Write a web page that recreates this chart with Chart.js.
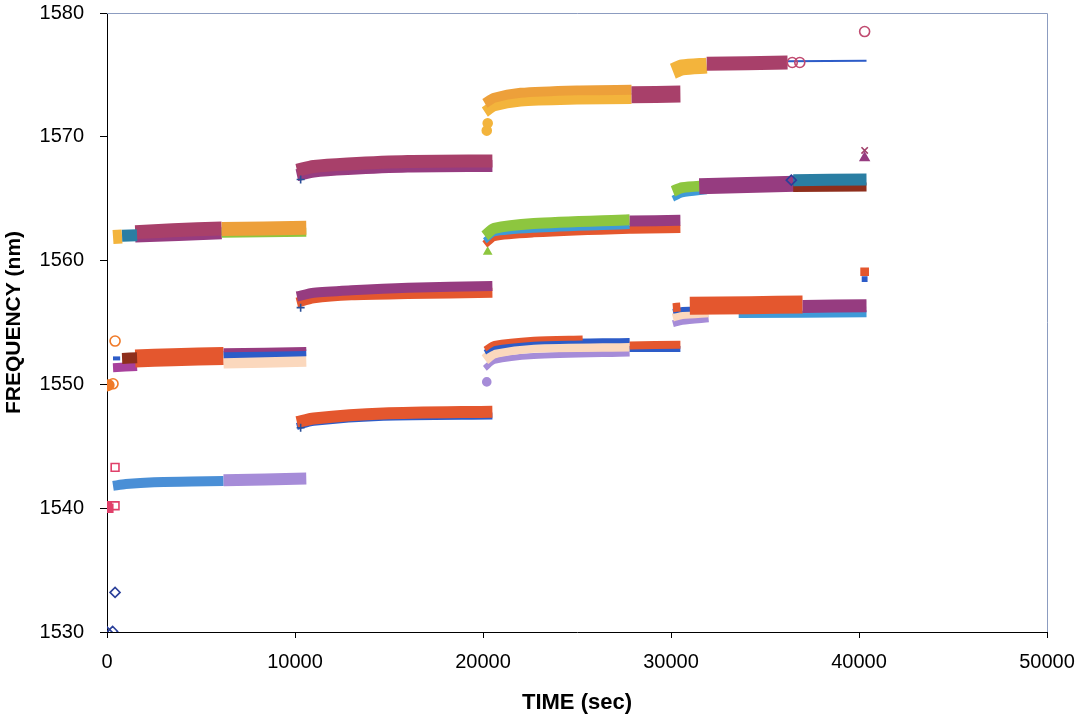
<!DOCTYPE html>
<html>
<head>
<meta charset="utf-8">
<script src="https://cdn.jsdelivr.net/npm/chart.js@4.4.1/dist/chart.umd.min.js"></script>
<style>
  html, body { margin: 0; padding: 0; background: #fff; }
  canvas { display: block; }
</style>
</head>
<body>
<canvas id="freqChart" width="1078" height="719"></canvas>
<script>
// Axis ticks
const xTicks = [0, 10000, 20000, 30000, 40000, 50000];
const yTicks = [1530, 1540, 1550, 1560, 1570, 1580];

// Band data, [time (sec), frequency (nm)]
// step 1 (0 - 10000 s)
const s1TopOrange = [[320, 1561.9], [800, 1561.95]];
const s1TopTeal = [[800, 1562.0], [1600, 1562.05]];
const s1TopPurple = [[1500, 1561.95], [6100, 1562.2]];
const s1TopMaroon = [[1500, 1562.3], [3500, 1562.45], [6100, 1562.6]];
const s1TopGreen = [[6100, 1562.2], [10600, 1562.3]];
const s1TopYellow = [[6100, 1562.55], [10600, 1562.65]];

const s1MidBlue = [[320, 1552.1], [700, 1552.1]];
const s1MidMagenta = [[320, 1551.35], [1600, 1551.45]];
const s1MidBrown = [[800, 1552.1], [1600, 1552.15]];
const s1MidRed = [[1500, 1552.1], [3500, 1552.2], [6200, 1552.3]];
const s1MidPeach = [[6200, 1551.8], [10600, 1551.95]];
const s1MidBlue2 = [[6200, 1552.4], [10600, 1552.55]];
const s1MidMaroon = [[6200, 1552.75], [10600, 1552.85]];

const s1LowSteel = [[320, 1541.8], [1000, 1541.95], [2500, 1542.1], [4500, 1542.15], [6200, 1542.2]];
const s1LowLavender = [[6200, 1542.25], [10600, 1542.4]];

// step 2 (10000 - 20000 s)
const s2TopPurple = [[10100, 1566.9], [11000, 1567.2], [12800, 1567.4], [16000, 1567.6], [20500, 1567.65]];
const s2TopMaroon = [[10100, 1567.3], [11000, 1567.6], [12800, 1567.8], [16000, 1568.0], [20500, 1568.05]];
const s2MidRed = [[10100, 1556.6], [11000, 1556.95], [13000, 1557.2], [16000, 1557.3], [20500, 1557.4]];
const s2MidMaroon = [[10100, 1557.1], [11000, 1557.4], [13000, 1557.6], [16000, 1557.8], [20500, 1557.95]];
const s2LowBlue = [[10100, 1546.6], [11000, 1546.95], [14700, 1547.35], [20500, 1547.45]];
const s2LowRed = [[10100, 1546.95], [11000, 1547.25], [14700, 1547.65], [20500, 1547.8]];

// step 3 (20000 - 30000 s)
const s3TopYellow = [[20100, 1572.0], [20600, 1572.5], [22000, 1572.9], [25000, 1573.05], [27900, 1573.1]];
const s3TopOrange = [[20100, 1572.7], [20600, 1573.15], [22000, 1573.55], [25000, 1573.75], [27900, 1573.8]];
const s3TopMaroon = [[27900, 1573.4], [30500, 1573.45]];
const s3MidRed = [[20100, 1561.3], [20600, 1561.9], [22700, 1562.2], [27800, 1562.5], [30500, 1562.55]];
const s3MidBlue = [[20100, 1561.6], [20600, 1562.2], [22700, 1562.5], [27800, 1562.8]];
const s3MidGreen = [[20100, 1562.0], [20600, 1562.6], [22700, 1563.0], [27800, 1563.3]];
const s3MidMaroon = [[27800, 1563.2], [30500, 1563.25]];
const s3LowLavender = [[20100, 1551.3], [20600, 1551.9], [22700, 1552.3], [27800, 1552.5]];
const s3LowPeach = [[20100, 1552.0], [20600, 1552.55], [22700, 1553.0], [27800, 1553.1]];
const s3LowBlue = [[20100, 1552.6], [20600, 1553.0], [22700, 1553.4], [27800, 1553.55]];
const s3LowRed = [[20100, 1552.85], [20600, 1553.3], [22700, 1553.65], [25300, 1553.75]];
const s3LowBlue2 = [[27800, 1552.85], [30500, 1552.85]];
const s3LowRed2 = [[27800, 1553.15], [30500, 1553.2]];

// step 4 (30000 - 40000 s)
const s4TopYellow = [[30100, 1575.3], [30600, 1575.6], [31900, 1575.75]];
const s4TopMaroon = [[31900, 1575.9], [36200, 1576.0]];
const s4TopBlueLine = [[36200, 1576.1], [40400, 1576.15]];
const s4MidBlue = [[30100, 1565.0], [30600, 1565.35], [31900, 1565.6]];
const s4MidGreen = [[30100, 1565.6], [30600, 1565.9], [31900, 1566.05]];
const s4MidMaroon = [[31500, 1566.0], [36600, 1566.2]];
const s4MidBrown = [[36500, 1565.9], [40400, 1565.95]];
const s4MidTeal = [[36500, 1566.5], [40400, 1566.55]];
const s4LowLavender = [[30100, 1554.9], [30600, 1555.1], [32000, 1555.3]];
const s4LowPeach = [[30100, 1555.4], [30600, 1555.6], [32000, 1555.75]];
const s4LowBlue = [[30100, 1555.9], [30600, 1556.05], [32000, 1556.1]];
const s4LowBlue2 = [[33600, 1555.65], [40400, 1555.7]];
const s4LowRedStart = [[30100, 1556.2], [30500, 1556.25]];
const s4LowRed = [[31000, 1556.35], [34200, 1556.4], [37000, 1556.45]];
const s4LowMaroon = [[37000, 1556.3], [40400, 1556.35]];

// single markers
const orangeOpenCircles = [[430, 1553.5], [320, 1550.05]];
const orangeDots = [[0, 1549.9], [100, 1549.95]];
const pinkOpenSquares = [[430, 1543.3], [430, 1540.2]];
const pinkSquares = [[0, 1540.2], [100, 1540.0]];
const navyDiamonds = [[430, 1533.2], [300, 1530.05], [0, 1530.0]];
const navyCrosses = [[10300, 1566.55], [10300, 1556.2], [10300, 1546.5]];
const yellowDrips = [[20200, 1570.5], [20250, 1571.1]];
const greenDrips = [[20250, 1560.7]];
const lavenderDrips = [[20200, 1550.2]];
const maroonOpenCircles = [[36450, 1576.0], [36850, 1576.0], [40300, 1578.5]];
const maroonCrosses = [[40300, 1568.9]];
const maroonTriangles = [[40300, 1568.3]];
const navyOpenDiamonds = [[36400, 1566.5]];
const orangeSquares = [[40300, 1559.1]];
const blueSquares = [[40300, 1558.5]];

const pts = arr => arr.map(p => ({ x: p[0], y: p[1] }));

const datasets = [];

function band(data, color, width) {
    datasets.push({
        data: pts(data),
        showLine: true,
        borderColor: color,
        borderWidth: width,
        borderCapStyle: 'butt',
        borderJoinStyle: 'round',
        pointRadius: 0,
        tension: 0.25
    });
}

function marks(data, style, color, radius, filled) {
    datasets.push({
        data: pts(data),
        showLine: false,
        pointStyle: style,
        pointRadius: radius,
        pointBorderColor: color,
        pointBackgroundColor: filled ? color : 'rgba(0,0,0,0)',
        pointBorderWidth: 1.6
    });
}

// colours
const MAROON = '#a8406a';
const PURPLE = '#963c80';
const RED = '#e4572e';
const YELLOW = '#f3b43c';
const ORANGE = '#eda03a';
const GREEN = '#8dc63f';
const TEAL = '#2a7ea3';
const STEEL = '#4a8fd6';
const LBLUE = '#3f9ad8';
const BLUE = '#2d5cc8';
const LAVENDER = '#a68cd8';
const PEACH = '#fbd8bd';
const BROWN = '#8e2e1c';

// step 1
band(s1TopPurple, PURPLE, 12);
band(s1TopMaroon, MAROON, 14);
band(s1TopGreen, GREEN, 9);
band(s1TopYellow, ORANGE, 14);
band(s1TopOrange, YELLOW, 14);
band(s1TopTeal, TEAL, 12);

band(s1MidMagenta, '#a8409c', 9);
band(s1MidRed, RED, 18);
band(s1MidBrown, BROWN, 11);
band(s1MidBlue, BLUE, 4);
band(s1MidPeach, PEACH, 13);
band(s1MidBlue2, BLUE, 7);
band(s1MidMaroon, PURPLE, 4);

band(s1LowSteel, STEEL, 10);
band(s1LowLavender, LAVENDER, 12);

// step 2
band(s2TopPurple, PURPLE, 12);
band(s2TopMaroon, MAROON, 13);
band(s2MidRed, RED, 10);
band(s2MidMaroon, PURPLE, 10);
band(s2LowBlue, BLUE, 7);
band(s2LowRed, RED, 12);

// step 3
band(s3TopYellow, YELLOW, 11);
band(s3TopOrange, ORANGE, 10);
band(s3TopMaroon, MAROON, 17);
band(s3MidRed, RED, 8);
band(s3MidBlue, LBLUE, 6);
band(s3MidGreen, GREEN, 11);
band(s3MidMaroon, PURPLE, 11);
band(s3LowLavender, LAVENDER, 6);
band(s3LowPeach, PEACH, 11);
band(s3LowBlue, BLUE, 5);
band(s3LowRed, RED, 5);
band(s3LowBlue2, BLUE, 6);
band(s3LowRed2, RED, 8);

// step 4
band(s4TopYellow, YELLOW, 16);
band(s4TopMaroon, MAROON, 14);
band(s4TopBlueLine, BLUE, 2);
band(s4MidBlue, LBLUE, 6);
band(s4MidGreen, GREEN, 11);
band(s4MidMaroon, PURPLE, 16);
band(s4MidBrown, BROWN, 9);
band(s4MidTeal, TEAL, 12);
band(s4LowLavender, LAVENDER, 7);
band(s4LowPeach, PEACH, 8);
band(s4LowBlue, BLUE, 5);
band(s4LowBlue2, LBLUE, 7);
band(s4LowRedStart, RED, 9);
band(s4LowRed, RED, 18);
band(s4LowMaroon, PURPLE, 13);

// markers
marks(orangeOpenCircles, 'circle', '#f07a28', 5, false);
marks(orangeDots, 'circle', '#f07a28', 5, true);
marks(pinkOpenSquares, 'rect', '#e0406a', 5.5, false);
marks(pinkSquares, 'rect', '#e0406a', 5.5, true);
marks(navyDiamonds, 'rectRot', '#2a3f9a', 5, false);
marks(navyCrosses, 'cross', '#2a4f98', 4, false);
marks(yellowDrips, 'circle', YELLOW, 4.5, true);
marks(greenDrips, 'triangle', GREEN, 4, true);
marks(lavenderDrips, 'circle', LAVENDER, 4, true);
marks(maroonOpenCircles, 'circle', '#c04a70', 5, false);
marks(maroonCrosses, 'crossRot', '#a0406a', 4.5, false);
marks(maroonTriangles, 'triangle', PURPLE, 5, true);
marks(navyOpenDiamonds, 'rectRot', '#2a3f9a', 5, false);
marks(orangeSquares, 'rect', RED, 5, true);
marks(blueSquares, 'rect', BLUE, 3, true);

// later entries drawn on top
datasets.forEach((d, i) => { d.order = datasets.length - i; });

const plotFrame = {
    id: 'plotFrame',
    afterDraw(chart) {
        const { ctx, chartArea: a } = chart;
        ctx.save();
        ctx.strokeStyle = '#8c9cc0';
        ctx.lineWidth = 1;
        ctx.beginPath();
        ctx.moveTo(a.left, a.top + 0.5);
        ctx.lineTo(a.right + 0.5, a.top + 0.5);
        ctx.lineTo(a.right + 0.5, a.bottom);
        ctx.stroke();
        ctx.restore();
    }
};

const fontFamily = "'Liberation Sans', Arial, sans-serif";
const tickFont = { family: fontFamily, size: 20 };

new Chart(document.getElementById('freqChart'), {
    type: 'scatter',
    data: { datasets },
    options: {
        responsive: false,
        animation: false,
        events: [],
        layout: { padding: { left: 0, right: 31, top: 13, bottom: 0 } },
        plugins: { legend: { display: false }, tooltip: { enabled: false } },
        scales: {
            x: {
                type: 'linear',
                min: xTicks[0],
                max: xTicks[xTicks.length - 1],
                afterBuildTicks: s => { s.ticks = xTicks.map(v => ({ value: v })); },
                afterFit: s => { s.height = 87; s.paddingLeft = 0; s.paddingRight = 0; },
                grid: { display: true, drawOnChartArea: false, drawTicks: true, tickLength: 6, color: '#000' },
                border: { display: true, color: '#000', width: 1 },
                ticks: { color: '#000', font: tickFont, padding: 12, maxRotation: 0, callback: v => String(v) },
                title: { display: true, text: 'TIME (sec)', color: '#000', font: { family: fontFamily, size: 22, weight: 'bold' }, padding: { top: 0, bottom: 3 } }
            },
            y: {
                type: 'linear',
                min: yTicks[0],
                max: yTicks[yTicks.length - 1],
                afterBuildTicks: s => { s.ticks = yTicks.map(v => ({ value: v })); },
                afterFit: s => { s.width = 107; s.paddingTop = 0; s.paddingBottom = 0; },
                grid: { display: true, drawOnChartArea: false, drawTicks: true, tickLength: 7, color: '#000' },
                border: { display: true, color: '#000', width: 1 },
                ticks: { color: '#000', font: tickFont, padding: 16, callback: v => String(v) },
                title: { display: true, text: 'FREQUENCY (nm)', color: '#000', font: { family: fontFamily, size: 21, weight: 'bold' }, padding: { top: 2, bottom: 0 } }
            }
        }
    },
    plugins: [plotFrame]
});
</script>
</body>
</html>
